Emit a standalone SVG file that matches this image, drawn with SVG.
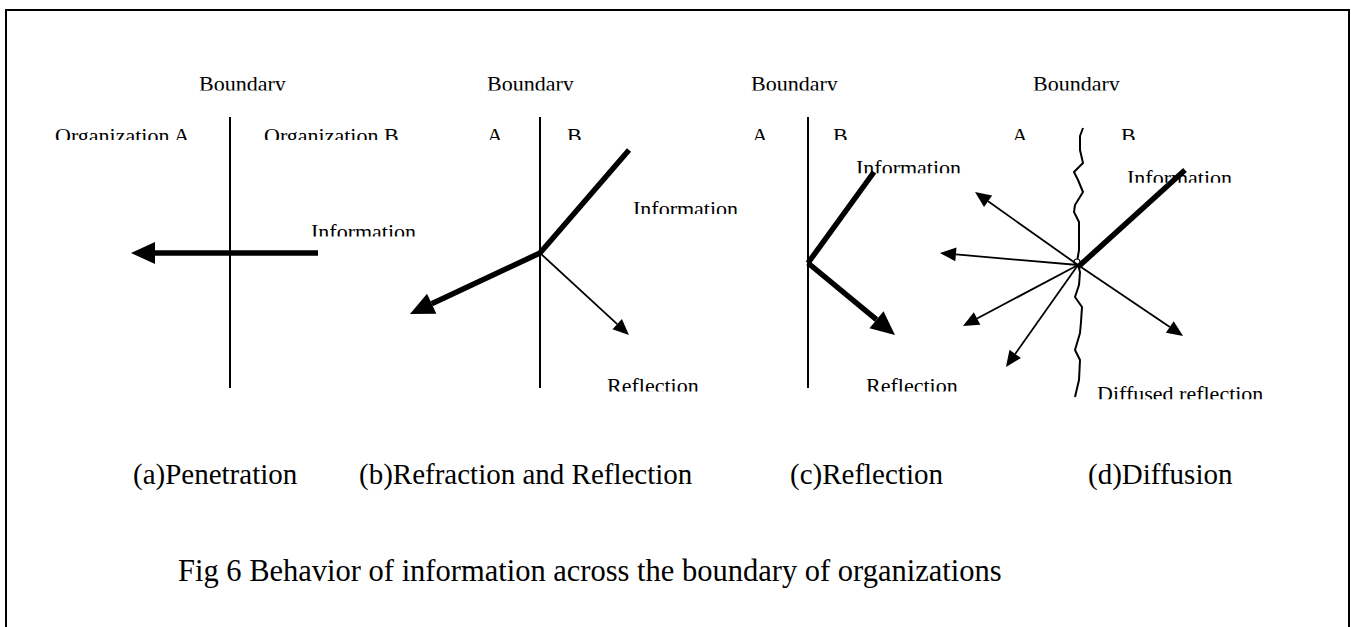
<svg xmlns="http://www.w3.org/2000/svg" width="1351" height="627" viewBox="0 0 1351 627">
  <style>
    .lbl { font-family: "Liberation Serif", "Times New Roman", serif; font-size: 22px; fill: #000; }
    .cap { font-family: "Liberation Serif", "Times New Roman", serif; font-size: 29px; fill: #000; }
    .fig { font-family: "Liberation Serif", "Times New Roman", serif; font-size: 30.5px; fill: #000; }
    .bound { stroke: #000; stroke-width: 2; fill: none; }
    .thick { stroke: #000; stroke-width: 5.5; fill: none; }
    .thin { stroke: #000; stroke-width: 1.8; fill: none; }
  </style>
  <defs>
    <!-- arrowheads start at the line end and point forward -->
    <marker id="headBig" markerUnits="userSpaceOnUse" markerWidth="26" markerHeight="24" refX="0" refY="11" orient="auto" overflow="visible">
      <path d="M0,0 L24,11 L0,22 Z" fill="#000"/>
    </marker>
    <marker id="headSmall" markerUnits="userSpaceOnUse" markerWidth="18" markerHeight="16" refX="0" refY="7" orient="auto" overflow="visible">
      <path d="M0,0 L16,7 L0,14 Z" fill="#000"/>
    </marker>
    <!-- the label boxes cut the lower edge of their text -->
    <clipPath id="labelBoxes" clipPathUnits="userSpaceOnUse">
      <rect x="0" y="60" width="1351" height="30.5"/>
      <rect x="0" y="115" width="1351" height="25"/>
      <rect x="300" y="215" width="130" height="21.5"/>
      <rect x="625" y="190" width="130" height="24"/>
      <rect x="600" y="370" width="120" height="21.5"/>
      <rect x="850" y="150" width="120" height="23.3"/>
      <rect x="860" y="370" width="120" height="21.5"/>
      <rect x="1120" y="160" width="120" height="22.7"/>
      <rect x="1090" y="378" width="190" height="21.3"/>
    </clipPath>
  </defs>

  <rect id="frame" x="6" y="10" width="1343" height="700" fill="#fff" stroke="#000" stroke-width="2"/>

  <!-- (a) penetration -->
  <g id="panel-a">
    <line class="bound" x1="230" y1="117" x2="230" y2="388"/>
    <g clip-path="url(#labelBoxes)">
      <text class="lbl" x="199" y="91">Boundary</text>
      <text class="lbl" x="55" y="143">Organization A</text>
      <text class="lbl" x="264" y="143">Organization B</text>
      <text class="lbl" x="311" y="238.5">Information</text>
    </g>
  </g>

  <!-- (b) refraction and reflection -->
  <g id="panel-b">
    <line class="bound" x1="540" y1="117" x2="540" y2="388"/>
    <g clip-path="url(#labelBoxes)">
      <text class="lbl" x="487" y="91">Boundary</text>
      <text class="lbl" x="487" y="143">A</text>
      <text class="lbl" x="567" y="143">B</text>
      <text class="lbl" x="633" y="216.3">Information</text>
      <text class="lbl" x="607" y="393">Reflection</text>
    </g>
  </g>

  <!-- (c) reflection -->
  <g id="panel-c">
    <line class="bound" x1="808" y1="117" x2="808" y2="388"/>
    <g clip-path="url(#labelBoxes)">
      <text class="lbl" x="751" y="91">Boundary</text>
      <text class="lbl" x="752" y="143">A</text>
      <text class="lbl" x="833" y="143">B</text>
      <text class="lbl" x="856" y="174.6">Information</text>
      <text class="lbl" x="866" y="393">Reflection</text>
    </g>
  </g>

  <!-- (d) diffusion: ragged boundary -->
  <g id="panel-d">
    <path class="bound" stroke-width="1.8" stroke-linejoin="round" d="M1083,128 L1080,136 L1080,150 L1083,163 L1074,172 L1078,180 L1083,192 L1075,205 L1074,212 L1079,222 L1079,250 L1077,262 L1080,272 L1079,285 L1075,297 L1082,307 L1081,322 L1080,333 L1075,350 L1080,360 L1079,380 L1075,397"/>
    <circle cx="1077" cy="262" r="3" fill="#fff" stroke="#000" stroke-width="1.2"/>
    <g clip-path="url(#labelBoxes)">
      <text class="lbl" x="1033" y="91">Boundary</text>
      <text class="lbl" x="1012" y="143">A</text>
      <text class="lbl" x="1121" y="143">B</text>
      <text class="lbl" x="1127" y="184.6">Information</text>
      <text class="lbl" x="1097" y="401.3">Diffused reflection</text>
    </g>
  </g>

  <g id="connectors">
    <!-- (a) -->
    <line class="thick" x1="318" y1="253" x2="155" y2="253" marker-end="url(#headBig)"/>
    <!-- (b) -->
    <line class="thick" x1="629" y1="150" x2="540" y2="253"/>
    <line class="thick" x1="540" y1="253" x2="431.7" y2="303.8" marker-end="url(#headBig)"/>
    <line class="thin" x1="540" y1="253" x2="617.2" y2="324.2" marker-end="url(#headSmall)"/>
    <!-- (c) -->
    <line class="thick" x1="874" y1="172" x2="808" y2="263"/>
    <line class="thick" x1="808" y1="263" x2="876.5" y2="319.7" marker-end="url(#headBig)"/>
    <!-- (d) -->
    <line class="thin" x1="1078" y1="265" x2="988.1" y2="201.3" marker-end="url(#headSmall)"/>
    <line class="thin" x1="1078" y1="265" x2="955.9" y2="254.4" marker-end="url(#headSmall)"/>
    <line class="thin" x1="1078" y1="265" x2="977.1" y2="318.5" marker-end="url(#headSmall)"/>
    <line class="thin" x1="1078" y1="265" x2="1015.2" y2="353.9" marker-end="url(#headSmall)"/>
    <line class="thin" x1="1078" y1="265" x2="1169.8" y2="327" marker-end="url(#headSmall)"/>
    <line class="thick" x1="1185" y1="170" x2="1078" y2="267"/>
  </g>

  <g id="captions">
    <text class="cap" x="133" y="484">(a)Penetration</text>
    <text class="cap" x="359" y="484">(b)Refraction and Reflection</text>
    <text class="cap" x="790" y="484">(c)Reflection</text>
    <text class="cap" x="1088" y="484">(d)Diffusion</text>
    <text class="fig" x="178" y="581">Fig 6 Behavior of information across the boundary of organizations</text>
  </g>
</svg>
